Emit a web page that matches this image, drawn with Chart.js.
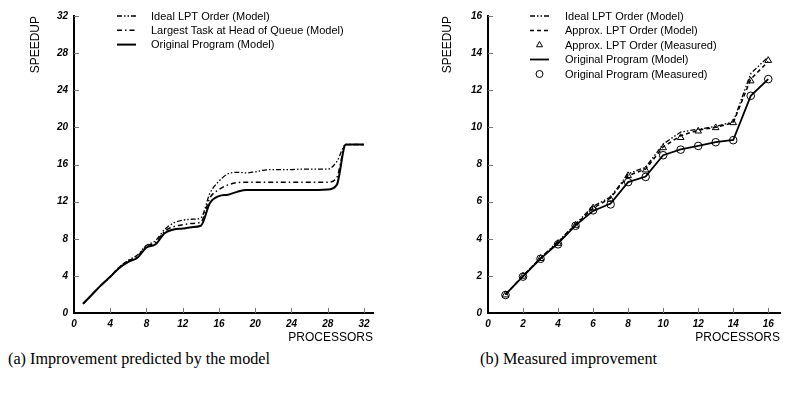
<!DOCTYPE html>
<html lang="en">
<head>
<meta charset="UTF-8">
<title>Speedup vs Processors</title>
<script src="https://cdn.jsdelivr.net/npm/chart.js"></script>
<style>
  body { margin: 0; background: #fff; }
  .wrap { position: relative; width: 785px; height: 399px; }
  #modelChart { position: absolute; left: 0; top: 0; }
  #measuredChart { position: absolute; left: 392px; top: 0; }
  .caption {
    position: absolute; top: 350px;
    font-family: "Liberation Serif", "DejaVu Serif", serif;
    font-size: 16.2px; color: #000; white-space: nowrap;
  }
</style>
</head>
<body>
<div class="wrap">
  <canvas id="modelChart" width="392" height="345"></canvas>
  <canvas id="measuredChart" width="393" height="345"></canvas>
  <div class="caption" style="left:8px">(a) Improvement predicted by the model</div>
  <div class="caption" style="left:480px">(b) Measured improvement</div>
</div>
<script>
// (a) model predictions, 1..32 processors
const procsA = [1,2,3,4,5,6,7,8,9,10,11,12,13,14,15,16,17,18,19,20,21,22,23,24,25,26,27,28,29,30,31,32];
const idealA = [1.0,2.0,3.0,3.95,4.95,5.7,6.25,7.3,7.8,9.0,9.7,10.0,10.1,10.25,12.9,14.2,15.0,15.15,15.1,15.2,15.4,15.45,15.45,15.45,15.5,15.5,15.5,15.5,16.3,18.15,18.15,18.15];
const largestA = [1.0,2.0,3.0,3.9,4.9,5.6,6.1,7.2,7.6,8.8,9.3,9.5,9.65,9.8,12.4,13.3,13.8,14.05,14.1,14.1,14.1,14.1,14.1,14.1,14.1,14.1,14.1,14.1,14.6,18.15,18.15,18.15];
const originalA = [1.0,2.0,3.0,3.9,4.85,5.5,5.95,7.05,7.4,8.6,9.0,9.1,9.25,9.4,11.85,12.6,12.75,13.05,13.25,13.25,13.25,13.25,13.25,13.25,13.25,13.25,13.25,13.3,13.8,18.15,18.15,18.15];
const ticksA = { x: [0,4,8,12,16,20,24,28,32], y: [0,4,8,12,16,20,24,28,32] };

// (b) model vs measured, 1..16 processors
const procsB = [1,2,3,4,5,6,7,8,9,10,11,12,13,14,15,16];
const idealB = [1.0,2.0,2.97,3.85,4.8,5.75,6.25,7.5,7.85,9.1,9.75,9.9,10.05,10.3,12.9,13.8];
const approxModelB = [1.0,2.0,2.95,3.8,4.75,5.65,6.2,7.4,7.75,8.95,9.55,9.85,10.0,10.25,12.6,13.55];
const approxMeasB = [0.97,1.98,2.93,3.75,4.72,5.66,6.12,7.4,7.7,8.9,9.45,9.8,9.98,10.25,12.5,13.6];
const originalModelB = [1.0,1.97,2.93,3.75,4.72,5.5,5.9,7.05,7.35,8.5,8.82,9.0,9.2,9.32,11.7,12.6];
const originalMeasB = [0.97,1.96,2.92,3.7,4.7,5.53,5.85,7.05,7.33,8.5,8.8,9.0,9.2,9.31,11.7,12.6];
const ticksB = { x: [0,2,4,6,8,10,12,14,16], y: [0,2,4,6,8,10,12,14,16] };

const pts = (xs, ys) => xs.map((x, i) => ({ x: x, y: ys[i] }));

const FONT = "'Liberation Sans', Arial, sans-serif";
const DASH_DOT_DOT = [5, 2, 1.5, 2, 1.5, 2];
const DASH_DOT = [5, 3, 1.5, 3];
const DASHED = [4, 3];

// tick marks drawn inward from the axes
const innerTicks = {
  id: 'innerTicks',
  afterDraw(chart) {
    const ctx = chart.ctx;
    const xs = chart.scales.x, ys = chart.scales.y;
    const area = chart.chartArea;
    ctx.save();
    ctx.strokeStyle = '#777';
    ctx.lineWidth = 1;
    xs.ticks.forEach(t => {
      if (t.value === 0) return;
      const px = Math.round(xs.getPixelForValue(t.value)) + 0.5;
      ctx.beginPath(); ctx.moveTo(px, area.bottom); ctx.lineTo(px, area.bottom - 5); ctx.stroke();
    });
    ys.ticks.forEach(t => {
      if (t.value === 0) return;
      const py = Math.round(ys.getPixelForValue(t.value)) + 0.5;
      ctx.beginPath(); ctx.moveTo(area.left, py); ctx.lineTo(area.left + 5, py); ctx.stroke();
    });
    ctx.restore();
  }
};

// stacked legend in the upper left of the plot
const keyBox = {
  id: 'keyBox',
  afterDraw(chart, args, opts) {
    const ctx = chart.ctx;
    ctx.save();
    ctx.font = '11px ' + FONT;
    ctx.textBaseline = 'middle';
    chart.data.datasets.forEach((ds, i) => {
      const y = opts.y + i * opts.gap;
      ctx.strokeStyle = '#000';
      if (ds.showLine === false) {
        ctx.fillStyle = 'rgba(0,0,0,0)';
        ctx.lineWidth = 1;
        Chart.helpers.drawPoint(ctx, { pointStyle: ds.pointStyle, radius: 3.5, borderWidth: 1, rotation: 0 },
          (opts.x0 + opts.x1) / 2, y);
      } else {
        ctx.lineWidth = ds.borderWidth;
        ctx.setLineDash(ds.borderDash || []);
        ctx.beginPath(); ctx.moveTo(opts.x0, y); ctx.lineTo(opts.x1, y); ctx.stroke();
        ctx.setLineDash([]);
      }
      ctx.fillStyle = '#000';
      ctx.fillText(ds.label, opts.tx, y + 0.5);
    });
    ctx.restore();
  }
};

function axes(xMax, xTicks, yMax, yTicks, yWidth, titlePad) {
  const tickFont = { family: FONT, size: 10, weight: 'bold', style: 'italic' };
  return {
    x: {
      type: 'linear', min: 0, max: xMax,
      afterBuildTicks: s => { s.ticks = xTicks.map(v => ({ value: v })); },
      afterFit: s => { s.height = 32; },
      grid: { display: false, drawTicks: false },
      border: { color: '#000', width: 2 },
      ticks: { color: '#000', font: tickFont, padding: 5, maxRotation: 0, autoSkip: false },
      title: { display: true, text: 'PROCESSORS', align: 'end', color: '#000',
               font: { family: FONT, size: 12 }, padding: { top: 0, bottom: 0 } }
    },
    y: {
      type: 'linear', min: 0, max: yMax,
      afterBuildTicks: s => { s.ticks = yTicks.map(v => ({ value: v })); },
      afterFit: s => { s.width = yWidth; },
      grid: { display: false, drawTicks: false },
      border: { color: '#000', width: 2 },
      ticks: { color: '#000', font: tickFont, padding: 6 },
      title: { display: true, text: 'SPEEDUP', align: 'end', color: '#000',
               font: { family: FONT, size: 12 }, padding: { top: titlePad, bottom: 0 } }
    }
  };
}

function lineSet(label, data, dash, width) {
  return { label: label, data: data, borderColor: '#000', borderWidth: width, borderDash: dash,
           pointRadius: 0, fill: false };
}
function markSet(label, data, style) {
  return { label: label, data: data, showLine: false, pointStyle: style, pointRadius: 3.8,
           pointBorderColor: '#000', pointBackgroundColor: 'rgba(0,0,0,0)', pointBorderWidth: 1 };
}

new Chart(document.getElementById('modelChart'), {
  type: 'line',
  data: {
    datasets: [
      lineSet('Ideal LPT Order (Model)', pts(procsA, idealA), DASH_DOT_DOT, 1.3),
      lineSet('Largest Task at Head of Queue (Model)', pts(procsA, largestA), DASH_DOT, 1.5),
      lineSet('Original Program (Model)', pts(procsA, originalA), [], 2)
    ]
  },
  options: {
    responsive: false, animation: false,
    layout: { padding: { left: 0, top: 16, right: 19, bottom: 0 } },
    elements: { line: { cubicInterpolationMode: 'monotone' } },
    scales: axes(33, ticksA.x, 32, ticksA.y, 74, 28),
    plugins: {
      legend: { display: false }, tooltip: { enabled: false },
      keyBox: { x0: 117, x1: 136, tx: 151, y: 16, gap: 14.3 }
    }
  },
  plugins: [innerTicks, keyBox]
});

new Chart(document.getElementById('measuredChart'), {
  type: 'line',
  data: {
    datasets: [
      lineSet('Ideal LPT Order (Model)', pts(procsB, idealB), DASH_DOT_DOT, 1.3),
      lineSet('Approx. LPT Order (Model)', pts(procsB, approxModelB), DASHED, 1.5),
      markSet('Approx. LPT Order (Measured)', pts(procsB, approxMeasB), 'triangle'),
      lineSet('Original Program (Model)', pts(procsB, originalModelB), [], 1.8),
      markSet('Original Program (Measured)', pts(procsB, originalMeasB), 'circle')
    ]
  },
  options: {
    responsive: false, animation: false,
    layout: { padding: { left: 0, top: 16, right: 0, bottom: 0 } },
    scales: axes(16.67, ticksB.x, 16, ticksB.y, 96, 48),
    plugins: {
      legend: { display: false }, tooltip: { enabled: false },
      keyBox: { x0: 138, x1: 157, tx: 173, y: 16, gap: 14.5 }
    }
  },
  plugins: [innerTicks, keyBox]
});
</script>
</body>
</html>
